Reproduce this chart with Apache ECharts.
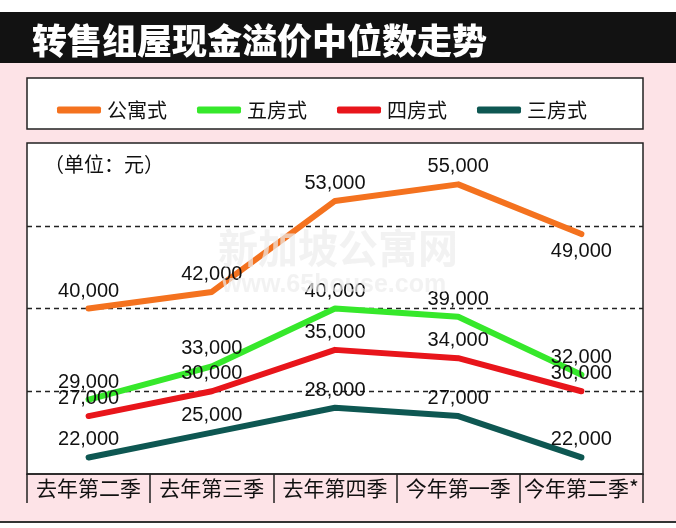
<!DOCTYPE html>
<html><head><meta charset="utf-8">
<script src="https://cdn.jsdelivr.net/npm/echarts@6/dist/echarts.min.js"></script>
<style>html,body{margin:0;padding:0;background:#fff}#c{width:676px;height:528px}</style>
</head><body><div id="c"></div>
<script>
const categories = ['去年第二季','去年第三季','去年第四季','今年第一季','今年第二季*'];
const seriesNames = ['公寓式','五房式','四房式','三房式'];
const apartment = [40000, 42000, 53000, 55000, 49000];
const fiveRoom  = [29000, 33000, 40000, 39000, 32000];
const fourRoom  = [27000, 30000, 35000, 34000, 30000];
const threeRoom = [22000, 25000, 28000, 27000, 22000];
const yTicks = [20000, 30000, 40000, 50000, 60000];

const colors = ['#f4721f', '#36e82b', '#e8151b', '#0e5752'];
const values = [apartment, fiveRoom, fourRoom, threeRoom];
const CJK = '"Noto Sans CJK SC", "Noto Sans", sans-serif';
const NUM = '"Liberation Sans", Arial, sans-serif';

const chart = echarts.init(document.getElementById('c'), null, {renderer:'canvas'});
const fmt = v => Number(v).toLocaleString('en-US');

const series = values.map((vals, s) => ({
  name: seriesNames[s],
  type: 'line',
  data: vals.map((v, i) => (s === 0 && i === vals.length - 1)
      ? {value: v, label: {position: 'bottom'}} : v),
  symbol: 'circle',
  symbolSize: 5,
  showSymbol: true,
  itemStyle: {color: colors[s]},
  lineStyle: {width: 6, color: colors[s], cap: 'round', join: 'round'},
  z: 3,
  label: {
    show: true, position: 'top', distance: 5,
    fontFamily: NUM, fontSize: 20, color: '#111',
    formatter: p => fmt(p.value)
  },
  emphasis: {disabled: true}
}));

chart.setOption({
  animation: false,
  backgroundColor: '#ffffff',
  title: {
    text: '转售组屋现金溢价中位数走势',
    left: 27, top: 18,
    textStyle: {color: '#ffffff', fontSize: 35, fontWeight: 900, fontFamily: CJK}
  },
  graphic: [
    {type: 'rect', z: -10, shape: {x: 0, y: 63, width: 676, height: 458}, style: {fill: '#fde3e7'}},
    {type: 'rect', z: -10, shape: {x: 0, y: 521, width: 676, height: 2}, style: {fill: '#333333'}},
    {type: 'rect', z: -10, shape: {x: 0, y: 12, width: 676, height: 51}, style: {fill: '#121212'}},
    {type: 'rect', z: -9, shape: {x: 27, y: 78, width: 616, height: 51}, style: {fill: '#ffffff', stroke: '#222', lineWidth: 1.5}},
    {type: 'text', z: 5, left: 44, top: 154, style: {text: '（单位：元）', fill: '#111', font: '20px ' + CJK}},
    {type: 'text', z: 10, left: 218, top: 228, style: {text: '新加坡公寓网', fill: 'rgba(236,236,236,0.7)', font: 'bold 40px ' + CJK}},
    {type: 'text', z: 10, left: 222, top: 273, style: {text: 'www.65house.com', fill: 'rgba(236,236,236,0.7)', font: 'bold 25px ' + NUM}}
  ],
  legend: {
    data: seriesNames,
    left: 52, top: 95,
    itemWidth: 44, itemHeight: 7, itemGap: 30,
    icon: 'roundRect',
    textStyle: {fontSize: 20, color: '#111', fontFamily: CJK, padding: [0, 0, 0, 1]},
    selectedMode: false
  },
  grid: {
    left: 27, right: 33, top: 143, bottom: 54,
    show: true, backgroundColor: '#ffffff', borderColor: '#222', borderWidth: 1.5
  },
  xAxis: {
    type: 'category', data: categories, boundaryGap: true,
    axisLine: {lineStyle: {color: '#222', width: 1.5}},
    axisTick: {show: true, length: 29, inside: false, alignWithLabel: false, lineStyle: {color: '#222', width: 1.5}},
    axisLabel: {fontSize: 21, color: '#111', fontFamily: CJK, margin: 4, interval: 0}
  },
  yAxis: {
    type: 'value', min: yTicks[0], max: yTicks[yTicks.length - 1], interval: yTicks[1] - yTicks[0],
    axisLabel: {show: false}, axisLine: {show: false}, axisTick: {show: false},
    splitLine: {show: true, showMinLine: false, showMaxLine: false, lineStyle: {color: '#222', type: [5, 4], width: 1.3}}
  },
  series: series
});
</script></body></html>
